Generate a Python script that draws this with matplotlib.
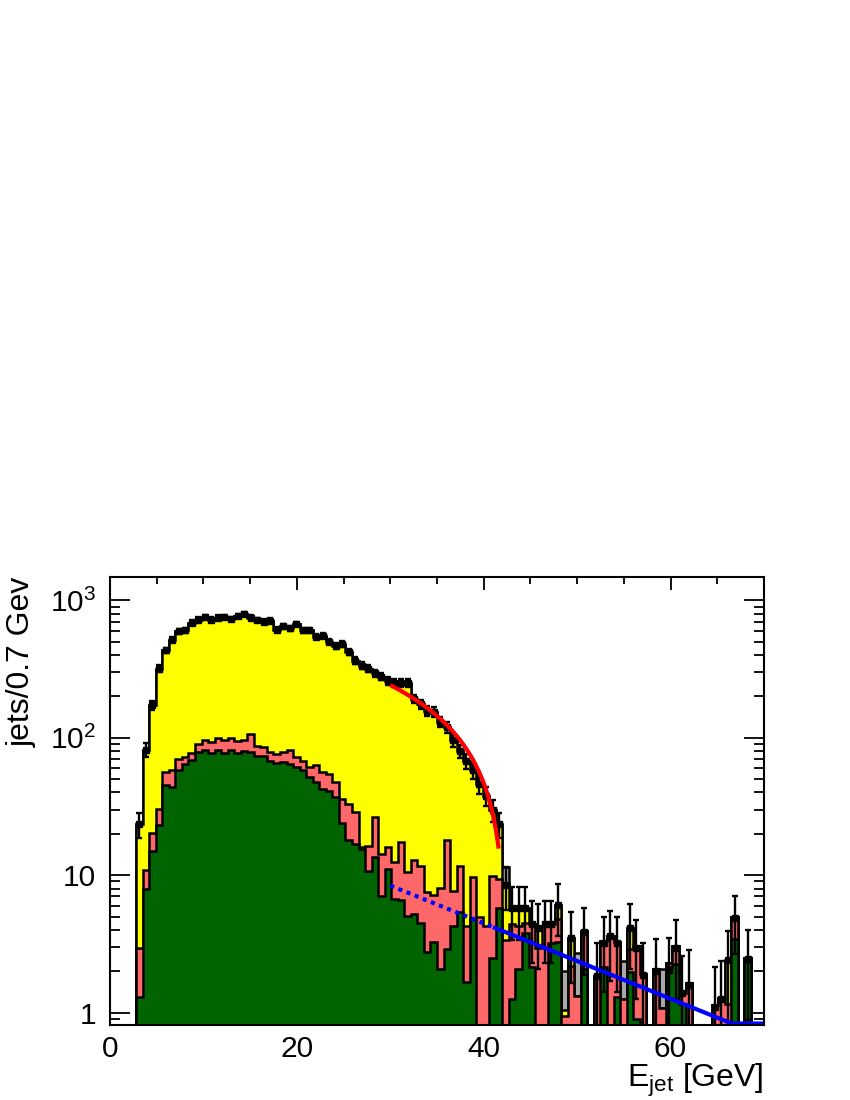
import numpy as np
import matplotlib
matplotlib.use("Agg")
import matplotlib.pyplot as plt
from matplotlib.ticker import FixedLocator, FixedFormatter

plt.rcParams['font.family'] = ['Liberation Sans', 'DejaVu Sans']
plt.rcParams['mathtext.fontset'] = 'custom'
plt.rcParams['mathtext.rm'] = 'Liberation Sans'
plt.rcParams['mathtext.it'] = 'Liberation Sans:italic'
plt.rcParams['mathtext.bf'] = 'Liberation Sans:bold'

# ---------------- data (100 bins of 0.7 GeV) ----------------
bin_width = 0.7
n_bins = 100

# cumulative stack levels as drawn (THStack style)
stack_green = [0, 0, 0, 0, 1.3, 7.9, 14.9, 23, 45.5, 44.2,
               57.8, 64.6, 69, 78.5, 81.8, 77.2, 81.8, 77.5, 80.8, 77,
               79.5, 79, 74.3, 74, 68, 65.5, 67, 64.6, 61, 58.5,
               51.6, 47.6, 42.4, 41.2, 36.9, 24, 18, 17, 15.5, 10.8,
               13.5, 7.1, 11.1, 6.7, 6.6, 5.07, 5.2, 4.5, 2.74, 3.24,
               2.07, 2.9, 4.3, 5.4, 1.66, 4.9, 0, 0, 2.5, 5.8,
               0, 1.25, 2.07, 3.8, 2.15, 0, 0, 3.2, 3.24, 0,
               0, 0, 2.07, 0, 0, 2.15, 0, 1.3, 0, 1.96,
               0.9, 0, 0, 0, 0, 2.15, 2.25, 1.16, 0, 0,
               0, 0, 0, 0, 0, 3.43, 0, 2.48, 0, 0]

stack_red = [0, 0, 0, 0, 2.95, 10.9, 20.3, 30.4, 56, 58,
             70, 73, 78, 90, 97, 93, 99, 97, 99, 95,
             96, 106, 87, 86, 78.5, 76.4, 79, 82, 73, 68,
             61, 63.7, 56, 54.6, 48, 36, 33, 28.7, 16, 16.4,
             26.4, 14.3, 16, 12.4, 17.3, 10.5, 12.8, 11.7, 7.5, 7.2,
             8.07, 18.1, 7.7, 11.7, 4.3, 9.75, 5.0, 4.3, 9.9, 9.4,
             3.4, 4.4, 4.3, 4.5, 4.4, 2.97, 4.3, 4.4, 4.8, 0.95,
             2.19, 1.33, 3.9, 0, 1.85, 3.3, 3.6, 3.24, 1.26, 2.9,
             3.06, 1.9, 0, 2.07, 1.08, 2.3, 3.06, 1.4, 1.63, 0,
             0, 0, 1.14, 1.27, 1.16, 5.0, 0, 2.48, 0, 0]

stack_yellow = [0, 0, 0, 0, 23.5, 82, 172, 318, 433, 518,
                598, 605, 689, 724, 757, 724, 749, 757, 735, 770,
                795, 750, 720, 700, 712, 610, 647, 625, 673, 605,
                608, 545, 552, 500, 467, 480, 420, 365, 335, 318,
                295, 278, 260, 250, 250, 250, 192, 175, 157, 155,
                131, 119, 96, 80, 68, 58, 46, 38, 30, 23.5,
                8.6, 5.8, 5.8, 5.8, 4.4, 4.05, 4.3, 4.4, 6.1, 1.05,
                3.5, 1.33, 3.9, 0, 1.85, 3.3, 3.6, 3.24, 1.26, 4.1,
                3.06, 1.9, 0, 2.07, 1.08, 2.3, 3.06, 1.4, 1.63, 0,
                0, 0, 1.14, 1.27, 2.42, 5.0, 0, 2.48, 0, 0]

stack_gray = [0, 0, 0, 0, 23.5, 82, 172, 318, 433, 518,
              598, 605, 689, 724, 757, 724, 749, 757, 735, 770,
              795, 750, 720, 700, 712, 610, 647, 625, 673, 605,
              608, 545, 552, 500, 467, 480, 420, 365, 335, 318,
              295, 278, 260, 250, 250, 250, 192, 175, 157, 155,
              131, 119, 96, 80, 68, 58, 46, 38, 30, 23.5,
              11.4, 5.8, 5.8, 5.8, 4.4, 4.05, 4.3, 4.4, 6.1, 2.0,
              3.5, 2.7, 3.9, 0, 1.85, 3.3, 3.6, 3.24, 2.38, 4.1,
              3.06, 1.9, 0, 2.07, 2.07, 2.3, 3.06, 1.4, 1.63, 0,
              0, 0, 1.14, 1.27, 2.42, 5.0, 0, 2.48, 0, 0]

data = [0, 0, 0, 0, 23.5, 82, 172, 318, 433, 518,
        598, 605, 689, 724, 757, 724, 749, 757, 735, 770,
        795, 750, 720, 700, 712, 610, 647, 625, 673, 605,
        608, 545, 552, 500, 467, 480, 420, 365, 335, 318,
        295, 278, 260, 250, 250, 250, 192, 175, 157, 155,
        131, 119, 96, 80, 68, 58, 46, 38, 30, 23.5,
        8.5, 5.8, 5.8, 5.8, 4.4, 4.1, 4.4, 4.4, 6.1, 0,
        3.5, 0, 3.85, 0, 1.85, 3.2, 3.6, 3.2, 0, 4.1,
        2.97, 1.87, 0, 2.0, 0, 2.05, 2.97, 1.4, 1.6, 0,
        0, 0, 1.1, 1.25, 2.4, 4.9, 0, 2.45, 0, 0]

# fit curves
red_fit_slope, red_fit_end, red_fit_range = 19.5, 42.4, (30.0, 41.6)
blue_norm, blue_decay, blue_ref = 8.4, 0.0632, 30.0
blue_dotted_range, blue_solid_range = (30.0, 41.2), (41.2, 70.0)

x_ticks = [0, 20, 40, 60]
y_ticks = [1, 10, 100, 1000]
y_tick_labels = ['1', '10', '$10^{2}$', '$10^{3}$']

# ---------------- figure ----------------
YMIN, YMAX = 0.813, 1480
fig = plt.figure(figsize=(8.5, 11), dpi=100)
ax = fig.add_axes([0.1294, 0.0682, 0.7694, 0.4073])
ax.set_yscale('log')
ax.set_xlim(0, 70)
ax.set_ylim(YMIN, YMAX)

edges = np.arange(n_bins + 1) * bin_width
centers = edges[:-1] + bin_width / 2
FLOOR = 1e-3


def pos(v):
    v = np.asarray(v, float)
    return np.where(v > 0, v, FLOOR)


for vals, col in [(stack_gray, '#a8a8a8'), (stack_yellow, '#ffff00'),
                  (stack_red, '#ff6868'), (stack_green, '#006400')]:
    ax.stairs(pos(vals), edges, baseline=FLOOR, fill=True,
              facecolor=col, edgecolor='black', linewidth=1.8, zorder=2)

d = np.asarray(data, float)
m = d > 0
err = np.sqrt(d)
lo = np.minimum(err, d - FLOOR)
ax.errorbar(centers[m], d[m], yerr=[lo[m], err[m]], fmt='s', color='black',
            ms=4.5, elinewidth=1.7, capsize=2.2, capthick=1.7, zorder=5)

e_red = np.linspace(*red_fit_range, 200)
ax.plot(e_red, red_fit_slope * (red_fit_end - e_red), color='#ff0000',
        lw=3.0, solid_capstyle='butt', zorder=6)

BLUE_FLOOR = YMIN * 1.025


def blue_f(e):
    return np.maximum(blue_norm * np.exp(-blue_decay * (e - blue_ref)), BLUE_FLOOR)


e_dot = np.linspace(*blue_dotted_range, 200)
e_sol = np.linspace(*blue_solid_range, 400)
ax.plot(e_dot, blue_f(e_dot), color='#0000ff', lw=3.0, ls=(0, (1, 1.1)),
        dash_capstyle='butt', zorder=6)
ax.plot(e_sol, blue_f(e_sol), color='#0000ff', lw=3.0, zorder=6)

# ticks
ax.tick_params(which='both', direction='in', top=True, right=True)
ax.xaxis.set_major_locator(FixedLocator(x_ticks))
ax.xaxis.set_minor_locator(FixedLocator([v for v in range(5, 71, 5) if v % 20]))
ax.tick_params(axis='x', which='major', length=9.5, width=1.3, labelsize=21.5, pad=7)
ax.tick_params(axis='x', which='minor', length=5, width=1.3)
ax.yaxis.set_major_locator(FixedLocator(y_ticks))
ax.yaxis.set_major_formatter(FixedFormatter(y_tick_labels))
ax.yaxis.set_minor_locator(FixedLocator([k * 10.0 ** p for p in range(-1, 4) for k in range(2, 10)]))
ax.tick_params(axis='y', which='major', length=14.5, width=1.3, labelsize=21.5, pad=10)
ax.tick_params(axis='y', which='minor', length=7.2, width=1.3)
ax.yaxis.set_minor_formatter(plt.NullFormatter())
for s in ax.spines.values():
    s.set_linewidth(1.5)
    s.set_zorder(10)

fig.text(0.8988, 1 - 1087 / 1100, r'E$_{\mathregular{jet}}$ [GeV]', ha='right',
         va='baseline', fontsize=23)
fig.text(0.026, 1 - 577 / 1100, 'jets/0.7 Gev', rotation=90, ha='center',
         va='top', fontsize=23)

fig.savefig('out.png', dpi=100)
